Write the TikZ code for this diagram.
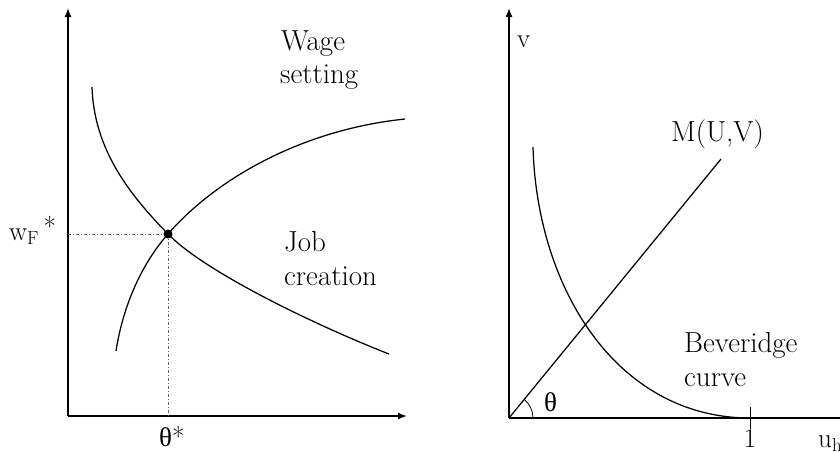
\documentclass[tikz,border=0pt]{standalone}
\usepackage{fontspec}
\newfontfamily\grk{Liberation Serif}
\usetikzlibrary{arrows.meta}
\begin{document}
\begin{tikzpicture}[x=1pt,y=-1pt,
  axis/.style={line width=1.4pt,-{Latex[length=9pt,width=7pt]}},
  curve/.style={line width=1.25pt},
  guide/.style={line width=0.6pt,gray!80!black,dash pattern=on 3pt off 2pt on 1pt off 2pt},
  lbl/.style={font=\fontsize{29}{34}\selectfont,inner sep=0pt},
  sml/.style={font=\fontsize{27}{32}\selectfont,inner sep=0pt}]
\useasboundingbox (0,0) rectangle (840,451);
% left chart
\coordinate (O1) at (68,416);
\coordinate (Y1) at (68,8);
\coordinate (X1) at (407,416);
\draw[axis] (O1) -- (Y1);
\draw[axis] (O1) -- (X1);
\coordinate (E) at (168,234);
\coordinate (EY) at (68,234);
\coordinate (EX) at (168,416);
\draw[guide] (EY) -- (E);
\draw[guide] (E) -- (EX);
\coordinate (J0) at (92,87);
\coordinate (J1) at (389,354);
\draw[curve] (J0) .. controls (94,150) and (130,195) .. (E) .. controls (205,272) and (315,325) .. (J1);
\coordinate (W0) at (116,351);
\coordinate (W1) at (405,119);
\draw[curve] (W0) .. controls (124,300) and (145,260) .. (E) .. controls (215,180) and (300,130) .. (W1);
\fill (E) circle (4.5pt);
\node[lbl,anchor=base west] (wage) at (281,50) {Wage};
\node[lbl,anchor=base west] (setting) at (280,83) {setting};
\node[lbl,anchor=base west] (job) at (284,251) {Job};
\node[lbl,anchor=base west] (creation) at (284,285) {creation};
\node[sml,anchor=base west] (wf) at (9,240) {w$_{\mathrm{F}}$\,\raisebox{4pt}{*}};
\node[sml,anchor=base west] (ts) at (159,446) {{\grk θ}*};
% right chart
\coordinate (O2) at (509,418);
\coordinate (Y2) at (509,8);
\coordinate (X2) at (845,418);
\draw[axis] (O2) -- (Y2);
\draw[curve] (O2) -- (X2);
\coordinate (T1) at (750,418);
\coordinate (T1a) at (750,407);
\coordinate (T1b) at (750,429);
\draw[line width=0.8pt] (T1a) -- (T1b);
\coordinate (M1) at (721,159);
\draw[curve] (O2) -- (M1);
\coordinate (B0) at (533,147);
\draw[curve] (B0) .. controls (537,290) and (618,418) .. (T1);
\draw[line width=0.8pt] ([shift={(24,0)}]O2) arc[start angle=0,end angle=-51,radius=24];
\node[sml,anchor=base west] (v) at (517,47) {v};
\node[sml,anchor=base] (one) at (750,447) {1};
\node[sml,anchor=base west] (uh) at (818,447) {u$_{\mathrm{h}}$};
\node[sml,anchor=base west] (th) at (544,411) {\grk θ};
\node[lbl,anchor=base west] (muv) at (671,141) {M(U,V)};
\node[lbl,anchor=base west] (bev) at (684,352) {Beveridge};
\node[lbl,anchor=base west] (crv) at (684,386) {curve};
\end{tikzpicture}
\end{document}
